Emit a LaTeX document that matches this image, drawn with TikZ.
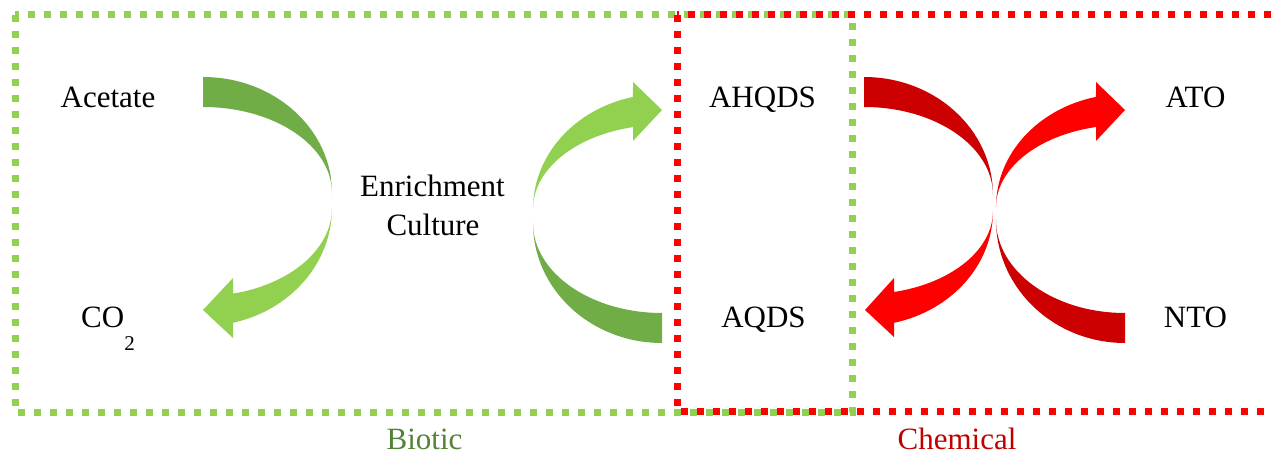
\documentclass[tikz,border=0pt]{standalone}
\usepackage{fontspec}
\setmainfont{Liberation Serif}
\definecolor{gdark}{HTML}{70AD47}
\definecolor{glight}{HTML}{92D050}
\definecolor{rdark}{HTML}{CC0000}
\definecolor{rlight}{HTML}{FF0000}
\definecolor{biotictext}{HTML}{548235}
\definecolor{chemtext}{HTML}{C00000}
\tikzset{
  lbl/.style={inner sep=0pt, font=\fontsize{31}{39}\selectfont, text=black},
  dotbox/.style={line width=7pt, dash pattern=on 7pt off 9pt, line cap=butt}
}
\begin{document}
\begin{tikzpicture}[x=1pt,y=-1pt]
\useasboundingbox (0,0) rectangle (1272,454);
\begin{scope}
\clip (0,0) rectangle (1272,454);
% boxes
\draw[dotbox, glight] (15,15) rectangle (852,412);
\draw[dotbox, rlight] (677,15) rectangle (1290,411);
% biotic arrows: Acetate -> CO2
\fill[gdark] (203,77) arc[start angle=90,end angle=0,x radius=129pt,y radius=116pt]
  arc[start angle=0,end angle=90,x radius=129pt,y radius=86pt] -- cycle;
\fill[glight] (332,208) arc[start angle=0,end angle=-76.55,x radius=129pt,y radius=118pt]
  -- (233,338) -- (203,310) -- (233,278) -- (233,293.6)
  arc[start angle=-76.55,end angle=0,x radius=129pt,y radius=88pt] -- cycle;
% AQDS -> AHQDS
\fill[glight] (533,209) arc[start angle=180,end angle=103,x radius=129pt,y radius=115pt]
  -- (633,82) -- (662,110) -- (633,141) -- (633,127.1)
  arc[start angle=103,end angle=180,x radius=129pt,y radius=84pt] -- cycle;
\fill[gdark] (533,223) arc[start angle=180,end angle=270,x radius=129pt,y radius=120pt]
  -- (662,313) arc[start angle=270,end angle=180,x radius=129pt,y radius=90pt] -- cycle;
% chemical arrows
\fill[rdark] (864,77) arc[start angle=90,end angle=0,x radius=129pt,y radius=118pt]
  arc[start angle=0,end angle=90,x radius=129pt,y radius=88pt] -- cycle;
\fill[rlight] (993,211) arc[start angle=0,end angle=-76.55,x radius=129pt,y radius=115pt]
  -- (894,337) -- (865,310) -- (894,278) -- (894,292)
  arc[start angle=-76.55,end angle=0,x radius=129pt,y radius=83.3pt] -- cycle;
\fill[rlight] (996,207) arc[start angle=180,end angle=103,x radius=129pt,y radius=113pt]
  -- (1096,82) -- (1125,110) -- (1096,141) -- (1096,127)
  arc[start angle=103,end angle=180,x radius=129pt,y radius=82.1pt] -- cycle;
\fill[rdark] (996,220) arc[start angle=180,end angle=270,x radius=129pt,y radius=123pt]
  -- (1125,313) arc[start angle=270,end angle=180,x radius=129pt,y radius=93pt] -- cycle;
\end{scope}
% labels
\node[lbl, anchor=base] (acetate) at (108,108) {Acetate};
\node[lbl, anchor=base west] (co2) at (81,327) {CO\raisebox{-24pt}{\fontsize{21}{21}\selectfont 2}};
\node[lbl, anchor=base] (enrich) at (432.5,197) {Enrichment};
\node[lbl, anchor=base] (culture) at (433,236) {Culture};
\node[lbl, anchor=base] (ahqds) at (762.5,108) {AHQDS};
\node[lbl, anchor=base] (aqds) at (763.5,327) {AQDS};
\node[lbl, anchor=base] (ato) at (1195.5,108) {ATO};
\node[lbl, anchor=base] (nto) at (1195.5,327) {NTO};
\node[lbl, anchor=base, text=biotictext] (biotic) at (424.5,449) {Biotic};
\node[lbl, anchor=base, text=chemtext] (chem) at (957,449.5) {Chemical};
\end{tikzpicture}
\end{document}
